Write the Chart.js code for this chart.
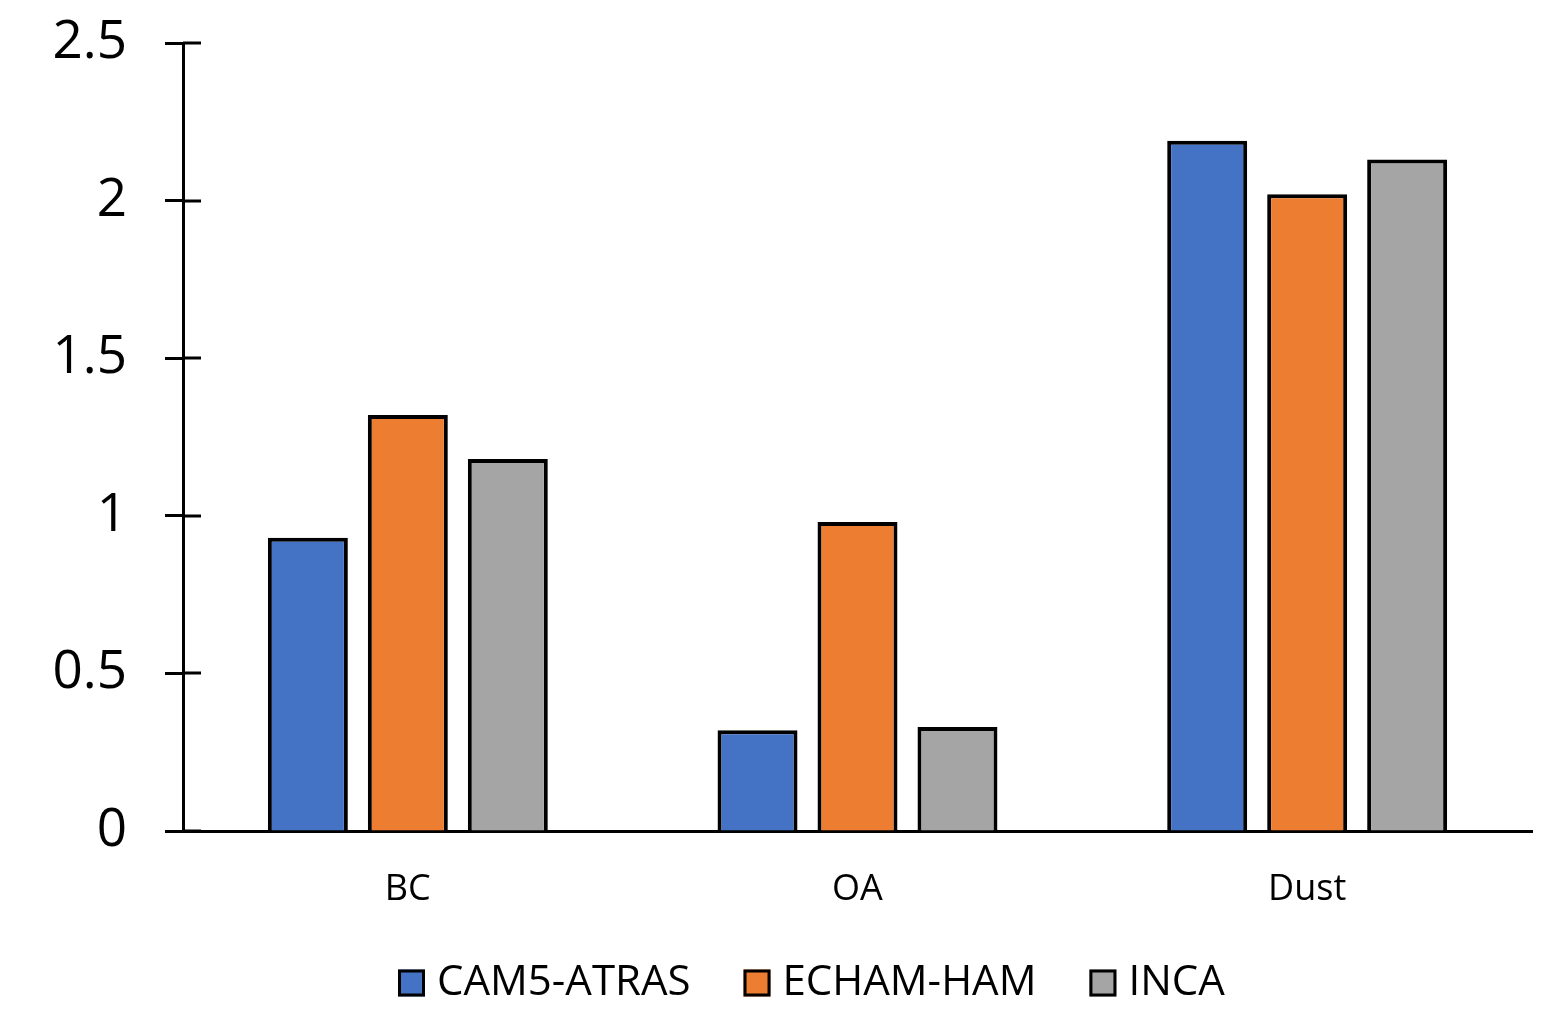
<!DOCTYPE html>
<html>
<head>
<meta charset="utf-8">
<script src="https://cdn.jsdelivr.net/npm/chart.js@4/dist/chart.umd.min.js"></script>
<style>
  html, body { margin: 0; padding: 0; background: #ffffff; }
  #wrap { width: 1562px; height: 1010px; }
</style>
</head>
<body>
<div id="wrap"><canvas id="c" width="1562" height="1010"></canvas></div>
<script>
// Aerosol categories and model values
const categories = ['BC', 'OA', 'Dust'];
const seriesNames = ['CAM5-ATRAS', 'ECHAM-HAM', 'INCA'];
const cam5Atras = [0.93, 0.32, 2.19];
const echamHam = [1.32, 0.98, 2.02];
const inca = [1.18, 0.33, 2.13];
const yTickValues = [0, 0.5, 1, 1.5, 2, 2.5];
const yTickLabels = ['0', '0.5', '1', '1.5', '2', '2.5'];

const seriesColors = ['#4472C4', '#ED7D31', '#A5A5A5'];
const seriesValues = [cam5Atras, echamHam, inca];
const FONT = "'Open Sans', 'DejaVu Sans', sans-serif";
const TICK = 18;

// Draws the inner half of each y-axis tick so the ticks cross the axis line
const crossTicks = {
  id: 'crossTicks',
  afterDraw(chart) {
    const y = chart.scales.y;
    const ctx = chart.ctx;
    ctx.save();
    ctx.strokeStyle = '#000';
    ctx.lineWidth = 3;
    yTickValues.forEach(v => {
      const py = Math.round(y.getPixelForValue(v));
      ctx.beginPath();
      ctx.moveTo(y.right, py);
      ctx.lineTo(y.right + TICK, py);
      ctx.stroke();
    });
    ctx.restore();
  }
};

// Legend row under the category labels: outlined swatch, then the series name
const legendRow = {
  id: 'legendRow',
  afterDraw(chart) {
    const ctx = chart.ctx;
    const box = 27, gap = 12, itemGap = 53;
    const cy = 983;
    let x = 398;
    ctx.save();
    ctx.font = "42px " + FONT;
    ctx.textBaseline = 'middle';
    ctx.textAlign = 'left';
    chart.data.datasets.forEach(ds => {
      ctx.fillStyle = ds.backgroundColor;
      ctx.fillRect(x, cy - box / 2, box, box);
      ctx.strokeStyle = '#000';
      ctx.lineWidth = 3;
      ctx.strokeRect(x + 1.5, cy - box / 2 + 1.5, box - 3, box - 3);
      ctx.fillStyle = '#000';
      ctx.fillText(ds.label, x + box + gap, cy);
      x += box + gap + ctx.measureText(ds.label).width + itemGap;
    });
    ctx.restore();
  }
};

new Chart(document.getElementById('c'), {
  type: 'bar',
  data: {
    labels: categories,
    datasets: seriesNames.map((name, i) => ({
      label: name,
      data: seriesValues[i],
      backgroundColor: seriesColors[i],
      borderColor: '#000000',
      borderWidth: 4,
      categoryPercentage: 0.667,
      barPercentage: 0.8
    }))
  },
  options: {
    responsive: false,
    animation: false,
    devicePixelRatio: 1,
    layout: { padding: { top: 43, right: 30, left: 0, bottom: 89 } },
    plugins: {
      tooltip: { enabled: false },
      legend: { display: false }
    },
    scales: {
      x: {
        grid: { display: false, drawTicks: false },
        border: { display: true, color: '#000', width: 3 },
        ticks: { color: '#000', font: { family: FONT, size: 36 }, padding: 37 },
        afterFit(scale) {
          scale.height = 90;
          scale.paddingLeft = 0;
          scale.paddingRight = 0;
        }
      },
      y: {
        min: 0,
        max: 2.5,
        afterBuildTicks(scale) {
          scale.ticks = yTickValues.map(v => ({ value: v }));
        },
        grid: {
          drawOnChartArea: false,
          drawTicks: true,
          tickLength: TICK,
          tickWidth: 3,
          tickColor: '#000'
        },
        border: { display: true, color: '#000', width: 3 },
        ticks: {
          color: '#000',
          font: { family: FONT, size: 53 },
          padding: 38,
          callback(value) {
            const idx = yTickValues.indexOf(value);
            return idx >= 0 ? yTickLabels[idx] : '';
          }
        },
        afterFit(scale) {
          scale.width = 183;
          scale.paddingTop = 0;
          scale.paddingBottom = 0;
        }
      }
    }
  },
  plugins: [crossTicks, legendRow]
});
</script>
</body>
</html>
